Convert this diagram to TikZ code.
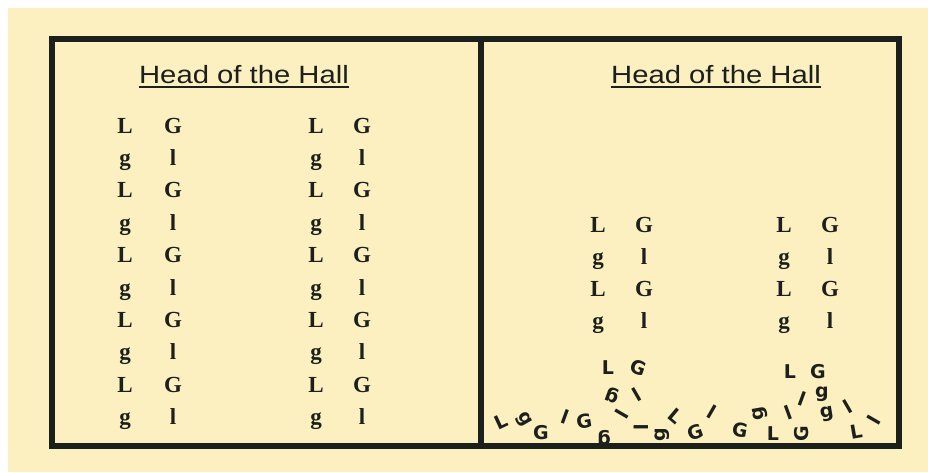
\documentclass[tikz,border=0pt]{standalone}
\usepackage{fontspec}
\setmainfont{Liberation Serif}
\newfontfamily\titlefont{Liberation Sans}
\newfontfamily\scrawlfont{DejaVu Sans}
\usetikzlibrary{positioning}
\definecolor{paper}{RGB}{252,240,192}
\definecolor{ink}{RGB}{28,32,28}

\begin{document}
\begin{tikzpicture}[
    x=1pt, y=-1pt,
    frame/.style={draw=ink, line width=6pt},
    halltitle/.style={inner sep=0pt, anchor=base, text=ink,
                      font=\titlefont\fontsize{25}{25}\selectfont},
    seat/.style={inner sep=0pt, anchor=base, text=ink,
                 font=\bfseries\fontsize{23}{23}\selectfont},
    fallen/.style={inner sep=0pt, text=ink,
                   font=\scrawlfont\bfseries\fontsize{19}{19}\selectfont}
]
%% Paper
\useasboundingbox (0,0) rectangle (928,472);
\fill[white] (0,0) rectangle (928,472);
\fill[paper] (8,8) rectangle (928,472);
%% Frame with two panels
\draw[frame] (52,39) rectangle (899,446);
\draw[frame] (481,39) -- (481,446);
%% Titles
\node[halltitle] (lefttitle) at (244,83) {\scalebox{1.17}[1]{Head of the Hall}};
\node[halltitle] (righttitle) at (716,83) {\scalebox{1.17}[1]{Head of the Hall}};
\draw[ink, line width=1.8pt] ([yshift=-4pt]lefttitle.base west) -- ([yshift=-4pt]lefttitle.base east);
\draw[ink, line width=1.8pt] ([yshift=-4pt]righttitle.base west) -- ([yshift=-4pt]righttitle.base east);
%% Left panel: ten rows, two pairs each
\foreach \r/\a/\b in {0/L/G, 1/g/l, 2/L/G, 3/g/l, 4/L/G, 5/g/l, 6/L/G, 7/g/l, 8/L/G, 9/g/l} {
    \node[seat] (la\r) at (125, 133+32.4*\r) {\a};
    \node[seat] (lb\r) at (173, 133+32.4*\r) {\b};
    \node[seat] (lc\r) at (316, 133+32.4*\r) {\a};
    \node[seat] (ld\r) at (362, 133+32.4*\r) {\b};
}
%% Right panel: four rows still standing
\foreach \r/\a/\b in {0/L/G, 1/g/l, 2/L/G, 3/g/l} {
    \node[seat] (ra\r) at (598, 232+32*\r) {\a};
    \node[seat] (rb\r) at (644, 232+32*\r) {\b};
    \node[seat] (rc\r) at (784, 232+32*\r) {\a};
    \node[seat] (rd\r) at (830, 232+32*\r) {\b};
}
%% Right panel: letters tumbling into a heap
\foreach \i/\x/\y/\c/\t in {
    1/608/368/L/0,     2/638/368/G/-20,  3/612/395/g/160,  4/637/395/l/30,
    5/501/422/L/25,    6/524/420/g/-60,  7/541/433/G/0,    8/565/417/l/-20,
    9/584/421/G/10,   10/604/438/g/180, 11/622/414/l/60,  12/641/427/l/90,
   13/662/435/g/90,   14/676/416/L/-40, 15/695/432/G/20,  16/712/412/l/-30,
   17/740/430/G/-10,  18/760/413/g/100, 19/773/434/L/0,   20/788/413/l/20,
   21/802/399/l/-20,  22/790/372/L/0,   23/818/372/G/0,   24/822/394/g/0,
   25/802/434/G/90,   26/827/414/g/10,  27/848/407/l/30,  28/856/432/L/10,
   29/874/420/l/60} {
    \node[fallen, rotate=\t] (heap\i) at (\x,\y) {\c};
}
\end{tikzpicture}
\end{document}
